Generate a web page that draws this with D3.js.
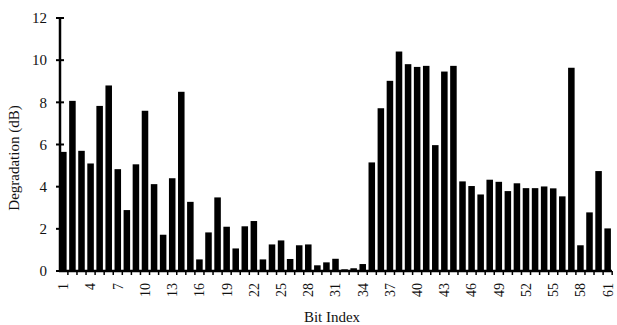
<!DOCTYPE html>
<html>
<head>
<meta charset="utf-8">
<script src="https://cdn.jsdelivr.net/npm/d3@7"></script>
<style>
  body { margin: 0; background: #fff; }
  text { font-family: "Liberation Serif", "DejaVu Serif", serif; fill: #111; }
</style>
</head>
<body>
<div id="chart"></div>
<script>
// bit index 1..61
const bits = d3.range(1, 62);
const degradation = [
  5.65, 8.07, 5.7, 5.1, 7.83, 8.8, 4.83, 2.89, 5.06, 7.6,
  4.12, 1.72, 4.4, 8.5, 3.28, 0.55, 1.83, 3.49, 2.1, 1.07,
  2.12, 2.37, 0.55, 1.26, 1.45, 0.57, 1.22, 1.26, 0.27, 0.41,
  0.58, 0.08, 0.13, 0.33, 5.15, 7.72, 9.02, 10.41, 9.81, 9.68,
  9.73, 5.97, 9.46, 9.73, 4.25, 4.03, 3.63, 4.33, 4.23, 3.79,
  4.16, 3.93, 3.93, 4.01, 3.92, 3.54, 9.64, 1.22, 2.78, 4.74,
  2.02
];
const yTicks = [0, 2, 4, 6, 8, 10, 12];
const xTickLabels = d3.range(1, 62, 3);

const width = 617, height = 325;
const svg = d3.select('#chart').append('svg')
  .attr('width', width)
  .attr('height', height);

const x = d3.scaleBand()
  .domain(bits)
  .range([59, 612])
  .paddingInner(0.28)
  .paddingOuter(0.12);

const y = d3.scaleLinear()
  .domain([0, 12])
  .range([271, 18]);

// bars
svg.append('g').selectAll('rect')
  .data(bits)
  .enter()
  .append('rect')
  .attr('x', d => x(d))
  .attr('y', (d, i) => y(degradation[i]))
  .attr('width', x.bandwidth())
  .attr('height', (d, i) => y(0) - y(degradation[i]))
  .attr('fill', '#000');

// y axis (ticks cross the line)
const yAxis = svg.append('g');
yAxis.append('line')
  .attr('x1', 60).attr('x2', 60)
  .attr('y1', y(12)).attr('y2', y(0))
  .attr('stroke', '#000').attr('stroke-width', 2.5);
yAxis.selectAll('.yt')
  .data(yTicks)
  .enter()
  .append('line')
  .attr('x1', 56).attr('x2', 64)
  .attr('y1', d => y(d)).attr('y2', d => y(d))
  .attr('stroke', '#000').attr('stroke-width', 2);
yAxis.selectAll('.yl')
  .data(yTicks)
  .enter()
  .append('text')
  .attr('x', 47)
  .attr('y', d => y(d))
  .attr('dy', '0.35em')
  .attr('text-anchor', 'end')
  .style('font-size', '15px')
  .text(d => d);

// x axis
const xAxis = svg.append('g');
xAxis.append('line')
  .attr('x1', 59).attr('x2', 612)
  .attr('y1', y(0)).attr('y2', y(0))
  .attr('stroke', '#000').attr('stroke-width', 2.5);
xAxis.selectAll('.xt')
  .data(bits)
  .enter()
  .append('line')
  .attr('x1', d => x(d) + x.bandwidth() + x.step() * 0.14)
  .attr('x2', d => x(d) + x.bandwidth() + x.step() * 0.14)
  .attr('y1', y(0)).attr('y2', y(0) + 4)
  .attr('stroke', '#000').attr('stroke-width', 1.5);
xAxis.selectAll('.xl')
  .data(xTickLabels)
  .enter()
  .append('text')
  .attr('transform', d => `translate(${x(d) + x.bandwidth() / 2},283) rotate(-90)`)
  .attr('dy', '0.35em')
  .attr('text-anchor', 'end')
  .style('font-size', '14px')
  .text(d => d);

// axis titles
svg.append('text')
  .attr('x', 332)
  .attr('y', 322)
  .attr('text-anchor', 'middle')
  .style('font-size', '15px')
  .text('Bit Index');

svg.append('text')
  .attr('transform', 'translate(19,158) rotate(-90)')
  .attr('text-anchor', 'middle')
  .style('font-size', '15px')
  .text('Degradation (dB)');
</script>
</body>
</html>
